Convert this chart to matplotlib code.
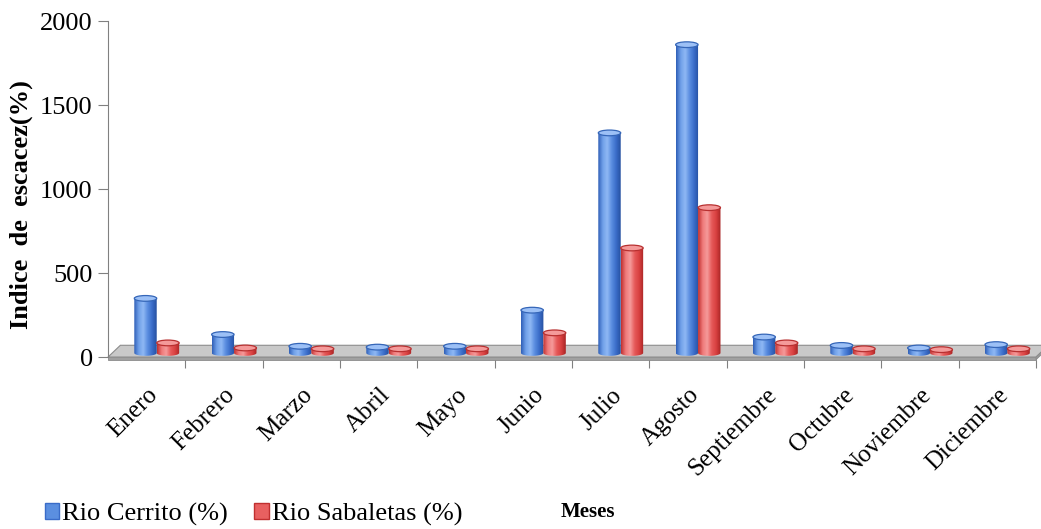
import matplotlib
matplotlib.use("Agg")
import matplotlib.pyplot as plt
import numpy as np
from matplotlib.patches import Ellipse, Polygon, Patch
from matplotlib.path import Path
from matplotlib.colors import LinearSegmentedColormap

plt.rcParams['font.family'] = ['Liberation Serif', 'DejaVu Serif']

meses = ["Enero", "Febrero", "Marzo", "Abril", "Mayo", "Junio", "Julio",
         "Agosto", "Septiembre", "Octubre", "Noviembre", "Diciembre"]
cerrito = [325, 110, 40, 35, 40, 255, 1310, 1835, 95, 45, 30, 50]
sabaletas = [60, 30, 25, 25, 25, 120, 625, 865, 60, 25, 20, 25]
series_names = ["Rio Cerrito (%)", "Rio Sabaletas (%)"]
yticks = [0, 500, 1000, 1500, 2000]

# shading across each cylinder: dark edge, highlight, mid tone, dark edge
blue_cm = LinearSegmentedColormap.from_list(
    "cyl_blue", ["#2f5fb8", "#6f9fe8", "#8fb8f4", "#5a8de0", "#3a6cc8", "#2650a0"])
red_cm = LinearSegmentedColormap.from_list(
    "cyl_red", ["#c03030", "#ef7a7a", "#f59a9a", "#e65a5a", "#d84040", "#a82424"])
tops = {"blue": ("#9cc0f6", "#3566b8"), "red": ("#f49a9a", "#b83030")}

base = 24        # bars stand a little behind the floor front edge
cap_h = 34       # height of the top ellipse in value units
floor_dx, floor_dy = 0.16, 70
ymin = -20

fig = plt.figure(figsize=(10.41, 5.29), dpi=100)
bottom = 1 - 360.4 / 529
top = 1 - 21 / 529
ax = fig.add_axes([108 / 1041, bottom, 928 / 1041, top - bottom])

n = len(meses)

# gray floor slab
floor_top = Polygon([(0, 0), (n, 0), (n + floor_dx, floor_dy), (floor_dx, floor_dy)],
                    closed=True, facecolor="#c9c9c9", edgecolor="#8c8c8c", lw=0.8,
                    clip_on=False, zorder=1)
floor_front = Polygon([(0, 0), (n, 0), (n, -16), (0, -16)], closed=True,
                      facecolor="#a0a0a0", edgecolor="#8c8c8c", lw=0.6, clip_on=False, zorder=1)
floor_side = Polygon([(n, 0), (n + floor_dx, floor_dy), (n + floor_dx, floor_dy - 16), (n, -16)],
                     closed=True, facecolor="#9a9a9a", edgecolor="#8c8c8c", lw=0.6,
                     clip_on=False, zorder=1)
for p in (floor_top, floor_front, floor_side):
    ax.add_patch(p)

grad = np.linspace(0, 1, 64).reshape(1, -1)


def cylinder(x0, w, value, cmap, key, z):
    y_top = base + value
    t = np.linspace(np.pi, 2 * np.pi, 30)
    xs = x0 + w / 2 + (w / 2) * np.cos(t)[::-1]
    ys = base + (cap_h / 2) * np.sin(t)[::-1]
    verts = [(x0, y_top)] + list(zip(xs[::-1], ys[::-1])) + [(x0 + w, y_top), (x0, y_top)]
    clip = Path(verts, closed=True)
    im = ax.imshow(grad, cmap=cmap, aspect="auto", extent=[x0, x0 + w, base - cap_h / 2, y_top],
                   origin="lower", zorder=z, interpolation="bilinear")
    im.set_clip_path(clip, transform=ax.transData)
    face, edge = tops[key]
    ax.add_patch(Ellipse((x0 + w / 2, y_top), w, cap_h, facecolor=face, edgecolor=edge,
                         lw=0.9, zorder=z + 0.5))


w = 0.29
for i in range(n):
    cylinder(i + 0.34, w, cerrito[i], blue_cm, "blue", 3 + i * 0.01)
    cylinder(i + 0.34 + w, w, sabaletas[i], red_cm, "red", 4 + i * 0.01)

ax.set_xlim(0, n)
ax.set_ylim(ymin, 2000)

for s in ("top", "right", "bottom"):
    ax.spines[s].set_visible(False)
ax.spines["left"].set_bounds(0, 2000)
ax.spines["left"].set_color("#808080")

ax.set_yticks(yticks)
ax.set_yticklabels([str(v) for v in yticks], fontsize=19)
ax.tick_params(axis="y", length=7, color="#808080", pad=4)

ax.set_xticks(np.arange(1, n + 1), minor=False)
ax.set_xticklabels([])
ax.set_xticks(np.arange(n) + 0.5, minor=True)
ax.set_xticklabels(meses, minor=True, rotation=45, ha="right", va="top",
                   rotation_mode="anchor", fontsize=18)
ax.tick_params(axis="x", which="major", length=6, color="#808080")
ax.tick_params(axis="x", which="minor", length=0, pad=17)

ax.set_ylabel("Indice  de  escacez(%)", fontsize=19, fontweight="bold")
ax.yaxis.set_label_coords(-0.081, 0.46)

handles = [Patch(facecolor="#5b8fe0", edgecolor="#3a6cc8"),
           Patch(facecolor="#e86060", edgecolor="#c03030")]
fig.legend(handles, series_names, loc="center left", bbox_to_anchor=(0.02, 0.028),
           ncol=2, frameon=False, fontsize=19, handlelength=0.55, handleheight=0.55,
           handletextpad=0.12, columnspacing=1.0)
fig.text(588 / 1041, 1 - 512 / 529, "Meses", fontsize=15, fontweight="bold",
         ha="center", va="center")

fig.savefig("out.png", dpi=100)
